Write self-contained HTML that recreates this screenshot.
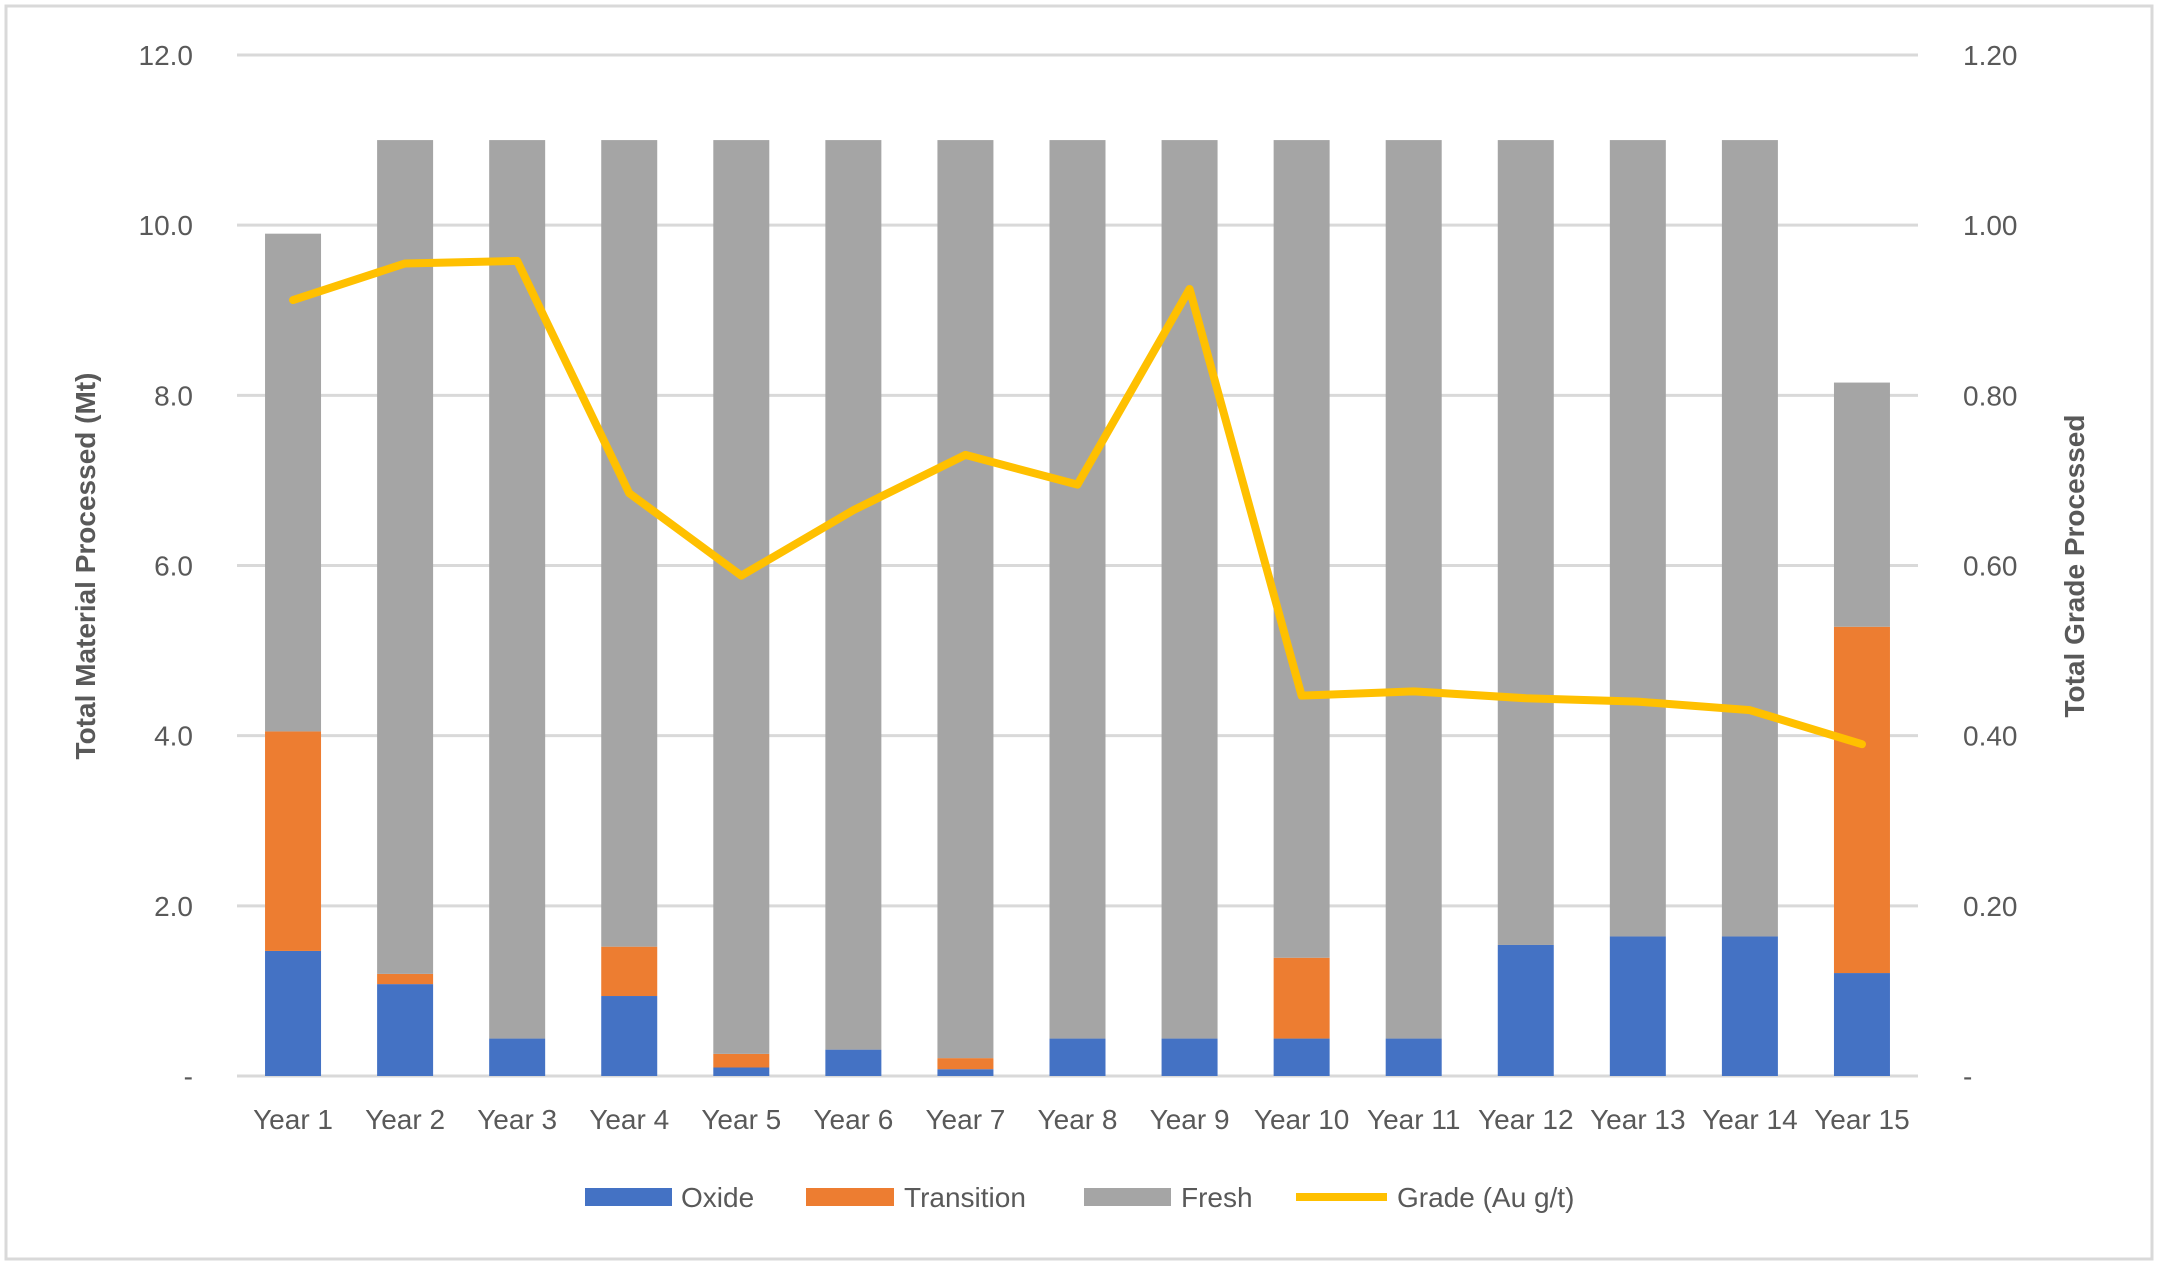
<!DOCTYPE html>
<html><head><meta charset="utf-8"><style>
html,body{margin:0;padding:0;background:#fff;}
svg{display:block;font-family:"Liberation Sans",sans-serif;}
</style></head><body>
<svg id="chart" width="2158" height="1265" viewBox="0 0 2158 1265">
<rect x="6" y="6" width="2146" height="1253" fill="#fff" stroke="#d9d9d9" stroke-width="3"/>
<g id="grid"></g>
<g id="bars"></g>
<g id="line"></g>
<g id="axes"></g>
<text x="95" y="566" transform="rotate(-90 95 566)" text-anchor="middle" font-size="28" font-weight="bold" fill="#595959">Total Material Processed (Mt)</text>
<text x="2084" y="566" transform="rotate(-90 2084 566)" text-anchor="middle" font-size="28" font-weight="bold" fill="#595959">Total Grade Processed</text>
<g font-size="28" fill="#595959">
<g><rect x="585" y="1188" width="87" height="18" fill="#4472c4"/><text x="681" y="1207">Oxide</text></g>
<g><rect x="806" y="1188" width="88" height="18" fill="#ed7d31"/><text x="904" y="1207">Transition</text></g>
<g><rect x="1084" y="1188" width="87" height="18" fill="#a5a5a5"/><text x="1181" y="1207">Fresh</text></g>
<g><line x1="1296" y1="1197" x2="1387" y2="1197" stroke="#ffc000" stroke-width="8"/><text x="1397" y="1207">Grade (Au g/t)</text></g>
</g>
</svg>
<script>
const categories=["Year 1","Year 2","Year 3","Year 4","Year 5","Year 6","Year 7","Year 8","Year 9","Year 10","Year 11","Year 12","Year 13","Year 14","Year 15"];
const oxide=[1.47,1.08,0.44,0.94,0.10,0.31,0.08,0.44,0.44,0.44,0.44,1.54,1.64,1.64,1.21];
const transition=[2.58,0.12,0,0.58,0.16,0,0.13,0,0,0.95,0,0,0,0,4.07];
const fresh=[5.85,9.8,10.56,9.48,10.74,10.69,10.79,10.56,10.56,9.61,10.56,9.46,9.36,9.36,2.87];
const grade=[0.912,0.955,0.958,0.685,0.588,0.665,0.730,0.695,0.925,0.447,0.452,0.444,0.440,0.430,0.390];
const leftTicks=["-","2.0","4.0","6.0","8.0","10.0","12.0"];
const rightTicks=["-","0.20","0.40","0.60","0.80","1.00","1.20"];
const NS="http://www.w3.org/2000/svg";
const X0=237,X1=1918,Y0=1076,YT=55,LMAX=12,RMAX=1.2;
const band=(X1-X0)/categories.length;
const xc=i=>X0+band*(i+0.5);
const yL=v=>Y0-(v/LMAX)*(Y0-YT);
const yR=v=>Y0-(v/RMAX)*(Y0-YT);
function mk(tag,attrs,parent){const e=document.createElementNS(NS,tag);for(const k in attrs)e.setAttribute(k,attrs[k]);parent.appendChild(e);return e;}
const grid=document.getElementById('grid'),bars=document.getElementById('bars'),axes=document.getElementById('axes'),lineG=document.getElementById('line');
leftTicks.forEach((t,i)=>{
  const v=i*2,y=yL(v);
  const g=mk('line',{x1:X0,x2:X1,y1:y,y2:y,stroke:'#d9d9d9','stroke-width':3},grid);
  
  
  const tl=mk('text',{x:193,y:y+10,'text-anchor':'end','font-size':28,fill:'#595959'},axes);
  tl.textContent=t;
  
  
  const tr=mk('text',{x:1963,y:yR(i*0.2)+10,'font-size':28,fill:'#595959'},axes);
  tr.textContent=rightTicks[i];
  
  
});
const bw=56;
categories.forEach((c,i)=>{
  let base=0;
  [[oxide,'#4472c4','oxide'],[transition,'#ed7d31','transition'],[fresh,'#a5a5a5','fresh']].forEach(([arr,col,nm])=>{
    const v=arr[i];
    if(v>0){
      const r=mk('rect',{x:xc(i)-bw/2,y:yL(base+v),width:bw,height:yL(base)-yL(base+v),fill:col},bars);
      
      
    }
    base+=v;
  });
  const t=mk('text',{x:xc(i),y:1129,'text-anchor':'middle','font-size':28,fill:'#595959'},axes);
  t.textContent=c;
  
  
});
const pl=mk('polyline',{points:grade.map((g,i)=>xc(i)+','+yR(g)).join(' '),fill:'none',stroke:'#ffc000','stroke-width':8,'stroke-linecap':'round','stroke-linejoin':'round'},lineG);


</script>
</body></html>
